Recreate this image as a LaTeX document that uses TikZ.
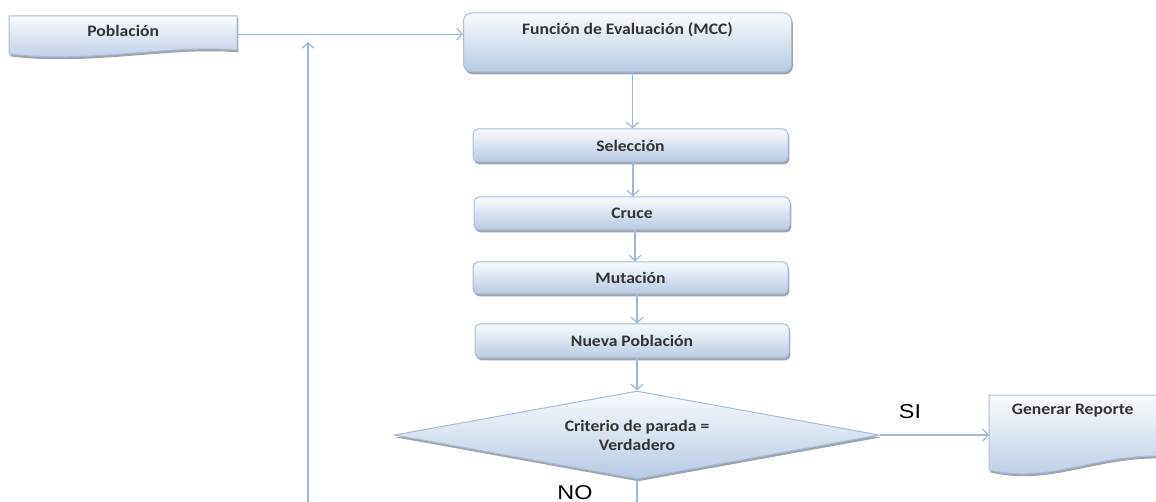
\documentclass[tikz,border=0pt]{standalone}
\usepackage{fontspec}
\setmainfont{Carlito}[FakeStretch=1.1]
\newfontfamily\labelfont{Liberation Sans}[FakeStretch=1.17]
\usetikzlibrary{shapes.geometric,shadows,arrows.meta}

\definecolor{boxtop}{HTML}{F9FBFD}
\definecolor{boxbot}{HTML}{B7CAE3}
\definecolor{boxline}{HTML}{A5BDDD}
\definecolor{linkblue}{HTML}{9DB8DB}
\definecolor{txt}{HTML}{333333}

\tikzset{
  boxshadow/.style={drop shadow={shadow xshift=1.3pt, shadow yshift=-2.4pt, fill=black, opacity=0.36}},
  boxtext/.style={font=\fontsize{16}{19}\selectfont\bfseries, text=txt, align=center},
  flowbox/.style={boxtext, rectangle, rounded corners=5pt, draw=boxline, line width=1pt,
    top color=boxtop, bottom color=boxbot, boxshadow, inner sep=0pt},
  docshape/.style={draw=boxline, line width=1pt, top color=boxtop, bottom color=boxbot, boxshadow},
  doclabel/.style={boxtext, rectangle, draw=none, inner xsep=0pt},
  decision/.style={boxtext, diamond, shape aspect=5.5, draw=boxline, line width=1pt, top color=boxtop,
    bottom color=boxbot, boxshadow, inner sep=0pt, minimum width=485pt, minimum height=88pt},
  link/.style={draw=linkblue, line width=1.2pt, -{Straight Barb[length=5.5pt,width=12pt]}},
  plainlink/.style={draw=linkblue, line width=1.2pt},
  answer/.style={font=\labelfont\fontsize{20}{22}\selectfont, text=black, inner sep=0pt}
}

\begin{document}
\begin{tikzpicture}[x=1pt,y=-1pt]
\path[use as bounding box] (0,0) rectangle (1156,502);
\clip (0,0) rectangle (1156,502);
\fill[white] (0,0) rectangle (1156,502);

% document-shaped boxes with a wavy lower edge
\path[docshape] (9,16) -- (237,16) -- (237,50)
  .. controls (170,44) and (90,64) .. (9,54) -- cycle;
\path[docshape] (989,395) -- (1162,395) -- (1162,456)
  .. controls (1090,455) and (1050,484) .. (989,470) -- cycle;

% labels of the document boxes
\node[doclabel, anchor=north west, minimum width=228pt, inner ysep=10.5pt,
      text height=10pt, text depth=5pt] (pob) at (9,16) {Población};
\node[doclabel, anchor=north west, minimum width=167pt, inner ysep=9pt,
      text height=10pt, text depth=50pt] (gen) at (989,395) {Generar Reporte};

% process steps
\node[flowbox, minimum width=328pt, minimum height=59pt, rounded corners=8pt,
      text height=10pt, text depth=25pt] (fun) at (627.5,42.5) {Función de Evaluación (MCC)};
\node[flowbox, minimum width=315pt, minimum height=33pt] (sel) at (630.5,145.5) {Selección};
\node[flowbox, minimum width=316pt, minimum height=33pt] (cru) at (632,213.5) {Cruce};
\node[flowbox, minimum width=315pt, minimum height=32pt] (mut) at (630.5,278) {Mutación};
\node[flowbox, minimum width=314pt, minimum height=34pt] (nue) at (632,341) {Nueva Población};

% stopping test
\node[decision] (dia) at (637,435) {Criterio de parada =\\Verdadero};

% loose ends of the loop-back line and the NO branch
\coordinate (loopfoot) at (308,503);
\coordinate (looptip) at (308,42);
\coordinate (nofoot) at (637,503);

% connectors
\draw[link] (pob.east) -- (pob.east -| fun.west);
\draw[link] (loopfoot) -- (looptip);
\draw[link] ([xshift=5pt]fun.south) -- ([xshift=5pt]fun.south |- sel.north);
\draw[link] ([xshift=2.5pt]sel.south) -- ([xshift=2.5pt]sel.south |- cru.north);
\draw[link] ([xshift=3pt]cru.south) -- ([xshift=3pt]cru.south |- mut.north);
\draw[link] ([xshift=6.5pt]mut.south) -- ([xshift=6.5pt]mut.south |- nue.north);
\draw[link] ([xshift=5pt]nue.south) -- (dia.north);
\draw[link] (dia.east) -- (dia.east -| gen.west);
\draw[plainlink] (dia.south) -- (nofoot);

% branch labels
\node[answer] (si) at (910,412) {SI};
\node[answer] (no) at (575,493) {NO};
\end{tikzpicture}
\end{document}
